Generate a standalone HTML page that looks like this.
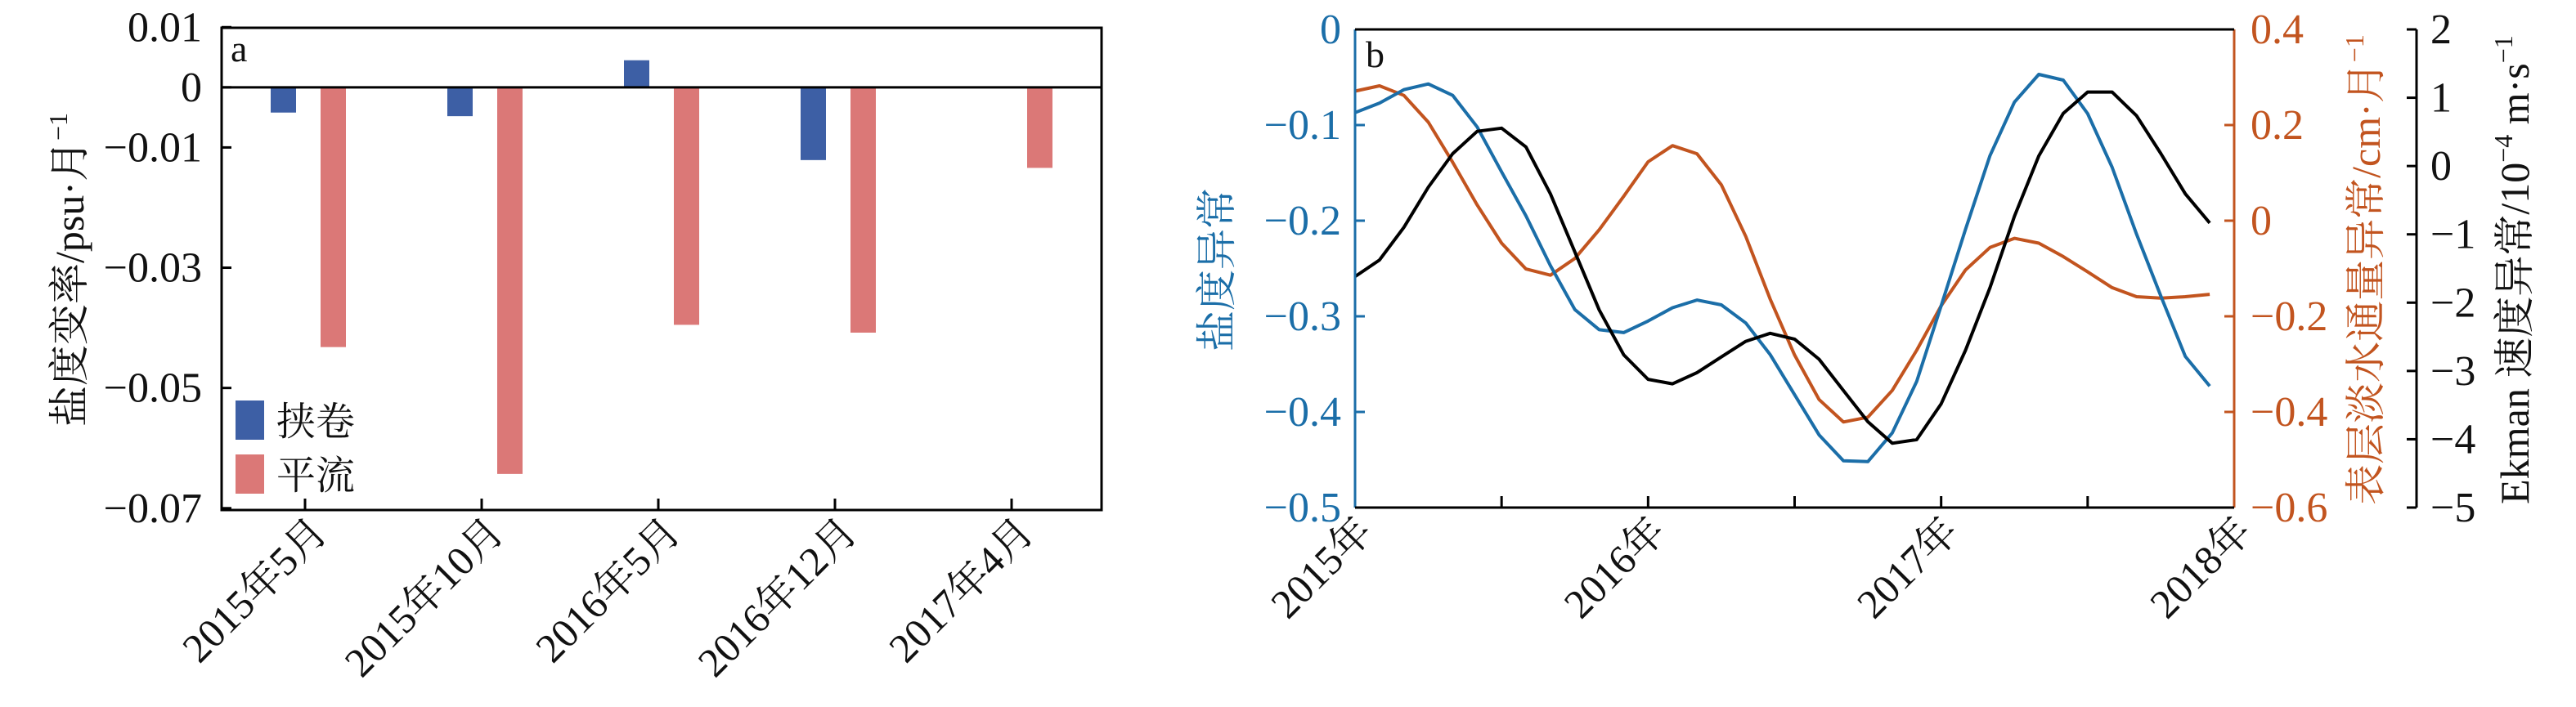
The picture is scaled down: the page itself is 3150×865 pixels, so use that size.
<!DOCTYPE html>
<html><head><meta charset="utf-8"><style>
html,body{margin:0;padding:0;background:#fff;}
svg{display:block;font-family:"Liberation Serif","Noto Serif CJK SC",serif;}
</style></head><body>
<svg id="chart" width="3150" height="865" viewBox="0 0 3150 865" xmlns="http://www.w3.org/2000/svg">
<g id="pa"></g>
<g id="pb"></g>
</svg>
<script>
// Panel a data
const catsA = ["2015年5月","2015年10月","2016年5月","2016年12月","2017年4月"];
const twist = [-0.0042,-0.0048,0.0045,-0.0121,0];
const advect = [-0.0432,-0.0643,-0.0395,-0.0408,-0.0134];
const ticksA = [0.01,0,-0.01,-0.03,-0.05,-0.07];
const tickLabelsA = ["0.01","0","\u22120.01","\u22120.03","\u22120.05","\u22120.07"];
// Panel b data (monthly, Jan 2015 - Dec 2017)
const salinity = [-0.087,-0.077,-0.063,-0.057,-0.069,-0.102,-0.149,-0.195,-0.247,-0.293,-0.314,-0.317,-0.305,-0.291,-0.283,-0.288,-0.307,-0.340,-0.382,-0.424,-0.451,-0.452,-0.422,-0.368,-0.289,-0.209,-0.132,-0.076,-0.047,-0.053,-0.088,-0.144,-0.214,-0.279,-0.342,-0.373];
const flux = [0.271,0.282,0.262,0.206,0.122,0.033,-0.047,-0.101,-0.114,-0.079,-0.019,0.051,0.123,0.157,0.140,0.075,-0.033,-0.164,-0.281,-0.374,-0.421,-0.411,-0.355,-0.271,-0.178,-0.103,-0.056,-0.037,-0.047,-0.075,-0.107,-0.140,-0.159,-0.162,-0.159,-0.154];
const ekman = [-1.618,-1.376,-0.898,-0.309,0.181,0.508,0.554,0.279,-0.407,-1.258,-2.108,-2.763,-3.122,-3.188,-3.024,-2.795,-2.566,-2.449,-2.534,-2.828,-3.286,-3.744,-4.058,-4.006,-3.482,-2.697,-1.781,-0.735,0.149,0.770,1.084,1.084,0.737,0.181,-0.407,-0.833];
const ticksSal = [0,-0.1,-0.2,-0.3,-0.4,-0.5];
const ticksFlux = [0.4,0.2,0,-0.2,-0.4,-0.6];
const ticksEk = [2,1,0,-1,-2,-3,-4,-5];
const yearLabels = ["2015年","2016年","2017年","2018年"];

const NS="http://www.w3.org/2000/svg";
function mk(tag,attrs,parent){const e=document.createElementNS(NS,tag);for(const k in attrs)e.setAttribute(k,attrs[k]);parent.appendChild(e);return e;}
function fmt(v){return v<0?"\u2212"+String(-v):String(v);}

// ---------- Panel a ----------
const pa=document.getElementById('pa');
const aL=271,aR=1347,aT=34,aB=624;
const yA=v=>aT+(0.0099-v)/(0.0099+0.0703)*(aB-aT);
const tickX=[373,589,805,1021,1237];
const xA=i=>373+i*216;
for(let i=0;i<ticksA.length;i++){
  const y=yA(ticksA[i]);
  const t=mk('line',{x1:aL,x2:aL+12,y1:y,y2:y,stroke:'#000','stroke-width':3},pa);
  
  
  const l=mk('text',{x:247,y:y+17,'font-size':52,'text-anchor':'end',fill:'#111'},pa);
  l.textContent=tickLabelsA[i];
  
  
}
for(let i=0;i<catsA.length;i++){
  const cx=xA(i);
  const y0=yA(0);
  if(twist[i]!==0){
    const y1=yA(twist[i]);
    const b=mk('rect',{x:cx-42,y:Math.min(y0,y1),width:31,height:Math.abs(y1-y0),fill:'#3d5fa5'},pa);
    
    
  }
  const y2=yA(advect[i]);
  const b2=mk('rect',{x:cx+19,y:Math.min(y0,y2),width:31,height:Math.abs(y2-y0),fill:'#db7877'},pa);
  
  
  const tk=mk('line',{x1:cx,x2:cx,y1:aB,y2:aB-14,stroke:'#000','stroke-width':3},pa);
  
  
  const tl=mk('text',{x:0,y:0,'font-size':50,'text-anchor':'end',fill:'#111',transform:`translate(${cx+30},${aB+30}) rotate(-45)`},pa);
  tl.textContent=catsA[i];
  
  
}
{
  const z=mk('line',{x1:aL,x2:aR,y1:yA(0),y2:yA(0),stroke:'#000','stroke-width':3},pa);
  
  
  const fr=mk('rect',{x:aL,y:aT,width:aR-aL,height:aB-aT,fill:'none',stroke:'#000','stroke-width':3},pa);
  
  
  const pl=mk('text',{x:282,y:75,'font-size':46,fill:'#111'},pa);
  pl.textContent='a';
  
  
  const lg1=mk('rect',{x:288,y:490,width:35,height:48,fill:'#3d5fa5'},pa);
  
  
  const lt1=mk('text',{x:338,y:532,'font-size':48,fill:'#111'},pa);
  lt1.textContent='挟卷';
  
  
  const lg2=mk('rect',{x:288,y:556,width:35,height:48,fill:'#db7877'},pa);
  
  
  const lt2=mk('text',{x:338,y:598,'font-size':48,fill:'#111'},pa);
  lt2.textContent='平流';
  
  
  const yt=mk('text',{x:0,y:0,'font-size':50,'text-anchor':'middle',fill:'#111',transform:'translate(102,330) rotate(-90)'},pa);
  yt.innerHTML='盐度变率/psu·月<tspan font-size="32" dy="-20">−1</tspan>';
  
  
}

// ---------- Panel b ----------
const pb=document.getElementById('pb');
const bL=1657,bR=2732,bT=36,bB=621,eX=2955;
const xB=m=>bL+m*(bR-bL)/36;
const ySal=v=>bT+(0-v)/0.5*(bB-bT);
const yFlux=v=>bT+(0.4-v)/1.0*(bB-bT);
const yEk=v=>bT+(2-v)/7*(bB-bT);
const BLUE='#1b6ea8',ORANGE='#c2541f';
for(const v of ticksSal){
  const y=ySal(v);
  const t=mk('line',{x1:bL,x2:bL+12,y1:y,y2:y,stroke:BLUE,'stroke-width':3},pb);
  
  
  const l=mk('text',{x:1640,y:y+17,'font-size':52,'text-anchor':'end',fill:BLUE},pb);
  l.textContent=fmt(v);
  
  
}
for(const v of ticksFlux){
  const y=yFlux(v);
  const t=mk('line',{x1:bR-12,x2:bR,y1:y,y2:y,stroke:ORANGE,'stroke-width':3},pb);
  
  
  const l=mk('text',{x:2752,y:y+17,'font-size':52,fill:ORANGE},pb);
  l.textContent=fmt(v);
  
  
}
for(const v of ticksEk){
  const y=yEk(v);
  const t=mk('line',{x1:eX-12,x2:eX,y1:y,y2:y,stroke:'#000','stroke-width':3},pb);
  
  
  const l=mk('text',{x:2972,y:y+17,'font-size':52,fill:'#111'},pb);
  l.textContent=fmt(v);
  
  
}
for(let m=6;m<36;m+=6){
  const x=xB(m);
  const t=mk('line',{x1:x,x2:x,y1:bB,y2:bB-14,stroke:'#000','stroke-width':3},pb);
  
  
}
for(let i=0;i<yearLabels.length;i++){
  const x=xB(i*12);
  const l=mk('text',{x:0,y:0,'font-size':50,'text-anchor':'end',fill:'#111',transform:`translate(${x+24},${bB+32}) rotate(-45)`},pb);
  l.textContent=yearLabels[i];
  
  
}
function series(arr,yf,color,name){
  const d=arr.map((v,i)=>(i?'L':'M')+xB(i).toFixed(1)+','+yf(v).toFixed(1)).join('');
  const p=mk('path',{d:d,fill:'none',stroke:color,'stroke-width':4,'stroke-linejoin':'round'},pb);
  
  
}
series(flux,yFlux,ORANGE,'line-freshwater-flux');
series(salinity,ySal,BLUE,'line-salinity');
series(ekman,yEk,'#000','line-ekman');
{
  const ax1=mk('line',{x1:bL,x2:bL,y1:bT,y2:bB,stroke:BLUE,'stroke-width':3},pb);
  
  
  const ax2=mk('line',{x1:bR,x2:bR,y1:bT,y2:bB,stroke:ORANGE,'stroke-width':3},pb);
  
  
  const ax3=mk('line',{x1:eX,x2:eX,y1:bT,y2:bB,stroke:'#000','stroke-width':3},pb);
  
  
  const tp=mk('line',{x1:bL,x2:bR,y1:bT,y2:bT,stroke:'#000','stroke-width':3},pb);
  
  
  const bt=mk('line',{x1:bL,x2:bR,y1:bB,y2:bB,stroke:'#000','stroke-width':3},pb);
  
  
  const pl=mk('text',{x:1670,y:82,'font-size':46,fill:'#111'},pb);
  pl.textContent='b';
  
  
  const t1=mk('text',{x:0,y:0,'font-size':50,'text-anchor':'middle',fill:BLUE,transform:'translate(1505,330) rotate(-90)'},pb);
  t1.textContent='盐度异常';
  
  
  const t2=mk('text',{x:0,y:0,'font-size':50,'text-anchor':'middle',fill:ORANGE,transform:'translate(2910,330) rotate(-90)'},pb);
  t2.innerHTML='表层淡水通量异常/cm·月<tspan font-size="32" dy="-20">−1</tspan>';
  
  
  const t3=mk('text',{x:0,y:0,'font-size':50,'text-anchor':'middle',fill:'#111',transform:'translate(3092,330) rotate(-90)'},pb);
  t3.innerHTML='Ekman 速度异常/10<tspan font-size="32" dy="-20">−4</tspan><tspan dy="20"> m·s</tspan><tspan font-size="32" dy="-20">−1</tspan>';
  
  
}
</script>
</body></html>
